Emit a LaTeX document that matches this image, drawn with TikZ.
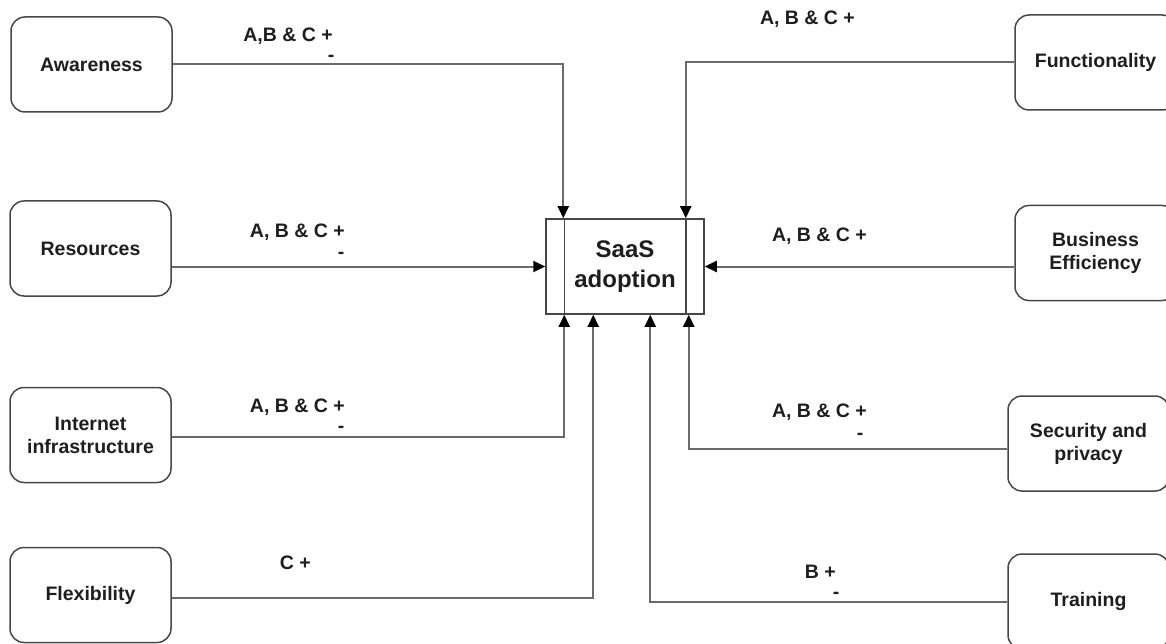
\documentclass[tikz,border=0pt]{standalone}
\usepackage{fontspec}
\setmainfont{Liberation Sans}
\usetikzlibrary{arrows.meta}
\definecolor{linegray}{HTML}{6A6A6A}
\definecolor{boxgray}{HTML}{474747}
\definecolor{inkblack}{HTML}{1E1E1E}
\begin{document}
\begin{tikzpicture}[x=1pt,y=-1pt,
  factor/.style={draw=boxgray, line width=1.5pt, rounded corners=14pt,
    minimum width=161pt, minimum height=95pt, align=center, inner sep=0pt,
    font=\bfseries\fontsize{19.5}{23}\selectfont, text=inkblack},
  core/.style={draw=boxgray, line width=1.5pt, minimum width=158pt,
    minimum height=95pt, align=center, inner sep=0pt,
    font=\bfseries\fontsize{24}{30}\selectfont, text=inkblack},
  conn/.style={draw=linegray, line width=2pt,
    -{Triangle[length=12pt,width=11pt,color=black,fill=black]}},
  lbl/.style={font=\bfseries\fontsize{19.5}{23}\selectfont, text=inkblack,
    inner sep=0pt, anchor=base east},
  sign/.style={font=\bfseries\fontsize{19.5}{23}\selectfont, text=inkblack,
    inner sep=0pt},
]
\useasboundingbox (0,0) rectangle (1166,644);

% central process box with its two inner rules
\node[core] (c) at (625,266.5) {SaaS\\adoption};
\draw[boxgray, line width=1.5pt] ([xshift=19pt]c.north west) -- ([xshift=19pt]c.south west);
\draw[boxgray, line width=1.5pt] ([xshift=-19pt]c.north east) -- ([xshift=-19pt]c.south east);

% factors on the left
\node[factor] (aw)   at (91.5,64.5)  {Awareness};
\node[factor] (res)  at (90.5,248.5) {Resources};
\node[factor] (inet) at (90.5,435)   {Internet\\infrastructure};
\node[factor] (flex) at (90.5,595)   {Flexibility};

% factors on the right
\node[factor] (fun)  at (1095.5,62.5) {Functionality};
\node[factor] (bus)  at (1095.5,253)  {Business\\Efficiency};
\node[factor] (sec)  at (1088.5,443.5) {Security and\\privacy};
\node[factor] (tr)   at (1088.5,601.5) {Training};

% connectors into the central box
\draw[conn] (aw.east) -| ([xshift=18pt]c.north west);
\draw[conn] (fun.west) -| ([xshift=-19pt]c.north east);
\draw[conn] (res.east |- c.west) -- (c.west);
\draw[conn] (bus.west |- c.east) -- (c.east);
\draw[conn] ([yshift=-2pt]inet.east) -| ([xshift=19pt]c.south west);
\draw[conn] ([yshift=-5.5pt]sec.west) -| ([xshift=-16pt]c.south east);
\draw[conn] ([yshift=-3pt]flex.east) -| ([xshift=48pt]c.south west);
\draw[conn] (tr.west) -| ([xshift=105pt]c.south west);

% influence labels
\node[lbl] (l1) at (333,42) {A,B \& C +};
\node[sign] (m1) at (331,58) {-};
\node[lbl] (l2) at (855,25) {A, B \& C +};
\node[lbl] (l3) at (345,237) {A, B \& C +};
\node[sign] (m3) at (341,255) {-};
\node[lbl] (l4) at (867,242) {A, B \& C +};
\node[lbl] (l5) at (345,412) {A, B \& C +};
\node[sign] (m5) at (341,429) {-};
\node[lbl] (l6) at (867,417) {A, B \& C +};
\node[sign] (m6) at (860,436) {-};
\node[lbl] (l7) at (311,569) {C +};
\node[lbl] (l8) at (836,578) {B +};
\node[sign] (m8) at (836,595) {-};
\end{tikzpicture}
\end{document}
